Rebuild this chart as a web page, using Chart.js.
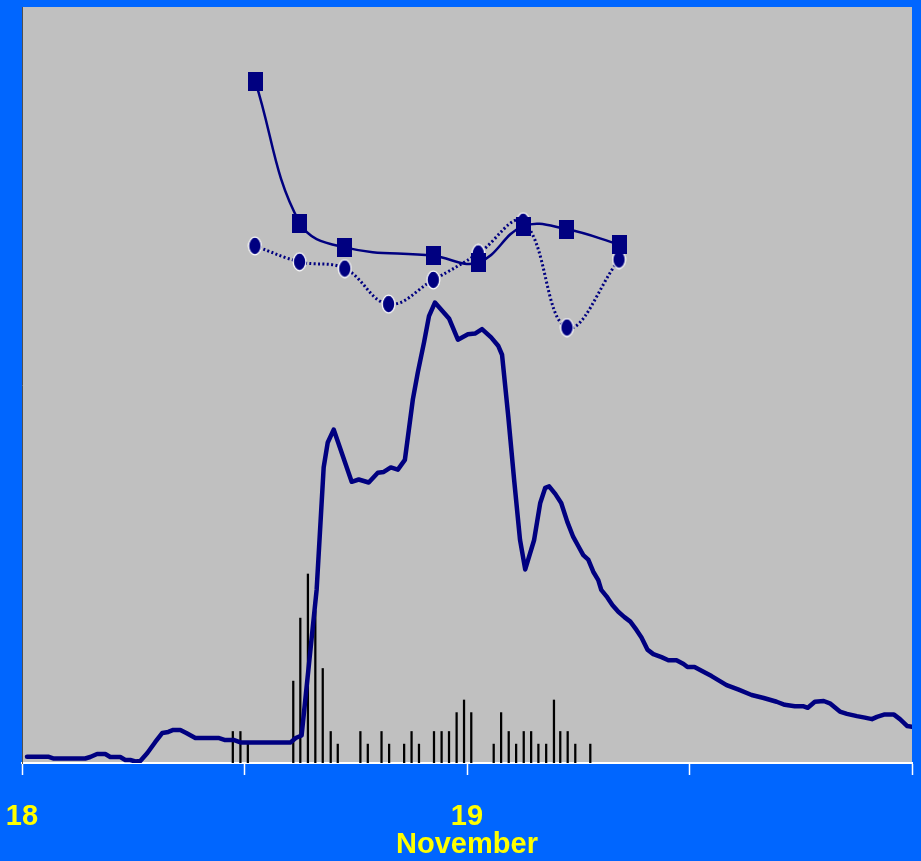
<!DOCTYPE html>
<html>
<head>
<meta charset="utf-8">
<script src="https://cdn.jsdelivr.net/npm/chart.js@4"></script>
<style>
  html, body { margin: 0; padding: 0; background: #0066ff; overflow: hidden; }
  canvas { display: block; }
</style>
</head>
<body>
<canvas id="chart" width="921" height="861"></canvas>
<script>
// hours after 18 November 00:00
const mainHours = [0.27,1.41,1.68,3.41,3.68,4.05,4.49,4.76,5.30,5.57,
  5.84,6.11,6.38,6.76,7.19,7.57,7.89,8.16,8.54,8.86,
  9.35,10.59,10.92,11.41,11.78,14.49,14.76,15.08,15.89,16.27,
  16.49,16.81,17.78,18.16,18.70,19.19,19.51,19.89,20.27,20.65,
  21.08,21.35,21.68,21.95,22.27,23.03,23.51,24.05,24.43,24.81,
  25.30,25.68,25.89,26.22,26.54,26.86,27.14,27.62,27.95,28.22,
  28.43,28.76,29.08,29.41,29.73,30.00,30.27,30.54,30.81,31.08,
  31.24,31.57,31.84,32.16,32.49,32.81,33.14,33.41,33.73,34.05,
  34.49,34.86,35.30,35.68,35.89,36.27,36.65,37.19,37.73,38.00,
  38.65,39.35,40.00,40.70,41.14,41.68,42.16,42.38,42.76,43.24,
  43.57,44.11,44.49,45.03,45.46,45.84,46.11,46.49,47.03,47.35,
  47.73,48.0];
const mainValues = [0.83,0.83,0.6,0.6,0.79,1.19,1.19,0.79,0.79,0.4,
  0.4,0.2,0.26,1.32,2.78,3.97,4.11,4.37,4.37,3.97,
  3.31,3.31,3.05,3.05,2.72,2.72,3.31,3.64,22.9,39.1,
  42.4,44.1,37.2,37.5,37.1,38.4,38.5,39.1,38.8,40.1,
  48.1,51.7,55.6,59.1,60.9,58.8,56.0,56.7,56.8,57.4,
  56.3,55.2,54.0,46.0,37.5,29.5,25.6,29.5,34.4,36.4,
  36.6,35.6,34.4,31.9,29.9,28.7,27.5,26.9,25.3,24.2,
  22.9,21.9,20.9,20.0,19.3,18.7,17.6,16.6,15.0,14.4,
  14.0,13.6,13.6,13.1,12.7,12.7,12.2,11.5,10.7,10.3,
  9.7,9.0,8.6,8.1,7.7,7.5,7.5,7.3,8.1,8.2,
  7.9,6.8,6.5,6.2,6.0,5.8,6.1,6.4,6.4,5.8,
  4.9,4.8];

const squareHours = [12.59,14.99,17.41,22.18,24.61,27.03,29.39,32.2];
const squareValues = [90.1,71.4,68.2,67.1,66.2,71.0,70.6,68.6];

const dotHours = [12.56,14.97,17.41,19.77,22.18,24.61,27.03,29.39,32.2];
const dotValues = [68.4,66.3,65.4,60.7,63.9,67.4,71.6,57.6,66.6];

const barHours = [11.37,11.78,12.18,14.63,15.01,15.42,15.82,16.22,16.65,17.03,
  18.25,18.65,19.39,19.80,20.61,21.01,21.41,22.22,22.63,23.03,
  23.44,23.84,24.23,25.44,25.84,26.25,26.65,27.06,27.46,27.85,
  28.27,28.69,29.03,29.43,29.84,30.65];
const barValues = [2.5,2.5,1.5,6.5,11.5,15.0,12.1,7.5,2.5,1.5,
  2.5,1.5,2.5,1.5,1.5,2.5,1.5,2.5,2.5,2.5,
  4.0,5.0,4.0,1.5,4.0,2.5,1.5,2.5,2.5,1.5,
  1.5,5.0,2.5,2.5,1.5,1.5];

const tickLabels = { 0: '18', 24: ['19', 'November'] };

const NAVY = '#000080';
const pts = (xs, ys) => xs.map((x, i) => ({ x, y: ys[i] }));

function markerImage(w, h, draw) {
  const c = document.createElement('canvas');
  c.width = w;
  c.height = h;
  draw(c.getContext('2d'));
  return c;
}
const squareMark = markerImage(15, 19, g => {
  g.fillStyle = NAVY;
  g.fillRect(0, 0, 15, 19);
});
const dotMark = markerImage(15, 20, g => {
  g.beginPath();
  g.ellipse(7.5, 10, 6.3, 8.8, 0, 0, Math.PI * 2);
  g.fillStyle = NAVY;
  g.fill();
  g.strokeStyle = '#ffffff';
  g.lineWidth = 1.2;
  g.stroke();
});

const plotBackground = {
  id: 'plotBackground',
  beforeDraw(chart) {
    const { ctx, chartArea: a } = chart;
    ctx.save();
    ctx.fillStyle = '#0066ff';
    ctx.fillRect(0, 0, chart.width, chart.height);
    ctx.fillStyle = '#c0c0c0';
    ctx.fillRect(a.left, a.top, a.right - a.left, a.bottom - a.top);
    ctx.restore();
  }
};

const noPad = s => {
  s.paddingLeft = 0;
  s.paddingRight = 0;
  s.paddingTop = 0;
  s.paddingBottom = 0;
};

new Chart(document.getElementById('chart'), {
  type: 'line',
  plugins: [plotBackground],
  data: {
    datasets: [
      {
        data: pts(squareHours, squareValues),
        borderColor: NAVY,
        borderWidth: 2.5,
        tension: 0.4,
        pointStyle: squareMark,
        pointRadius: 8,
        order: 0
      },
      {
        data: pts(dotHours, dotValues),
        borderColor: NAVY,
        borderWidth: 3,
        borderDash: [2, 2.4],
        tension: 0.4,
        pointStyle: dotMark,
        pointRadius: 8,
        order: 1
      },
      {
        data: pts(mainHours, mainValues),
        borderColor: NAVY,
        borderWidth: 4.5,
        borderCapStyle: 'round',
        borderJoinStyle: 'round',
        tension: 0,
        pointRadius: 0,
        order: 2
      },
      {
        type: 'bar',
        data: pts(barHours, barValues),
        backgroundColor: '#000000',
        barThickness: 1.6,
        grouped: false,
        yAxisID: 'y2',
        order: 3
      }
    ]
  },
  options: {
    responsive: false,
    devicePixelRatio: 1,
    animation: false,
    layout: { autoPadding: false, padding: { left: 22, right: 9, top: 7, bottom: 0 } },
    plugins: {
      legend: { display: false },
      tooltip: { enabled: false }
    },
    scales: {
      x: {
        type: 'linear',
        min: 0,
        max: 48,
        offset: false,
        afterFit: s => { noPad(s); s.height = 98; },
        grid: {
          offset: false,
          drawOnChartArea: false,
          drawTicks: true,
          tickLength: 12,
          tickColor: '#ffffff',
          tickWidth: 1.5
        },
        border: { color: '#ffffff', width: 2 },
        ticks: {
          stepSize: 12,
          autoSkip: false,
          maxRotation: 0,
          padding: 28,
          color: '#ffff00',
          font: {
            family: "'Liberation Sans Narrow', 'Arial Narrow', 'Liberation Sans', Arial, sans-serif",
            size: 29,
            weight: 'bold',
            lineHeight: 0.97
          },
          callback: v => tickLabels[v] || ''
        }
      },
      y: {
        min: 0,
        max: 100,
        afterFit: noPad,
        ticks: { display: false },
        grid: { display: false, drawTicks: false },
        border: { color: '#505050', width: 1 }
      },
      y2: {
        display: false,
        min: 0,
        max: 60
      }
    }
  }
});
</script>
</body>
</html>
